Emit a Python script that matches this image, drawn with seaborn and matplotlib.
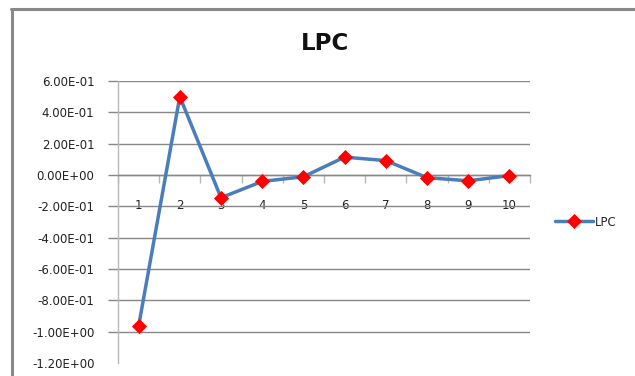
import matplotlib
matplotlib.use("Agg")
import matplotlib.pyplot as plt
from matplotlib.lines import Line2D
from matplotlib.ticker import FixedLocator, FuncFormatter
import seaborn as sns
import pandas as pd

# LPC coefficients by index
coef_index = [1, 2, 3, 4, 5, 6, 7, 8, 9, 10]
lpc_values = [-0.965, 0.50, -0.145, -0.041, -0.011, 0.114, 0.092, -0.017, -0.037, -0.004]
y_ticks = [-1.2, -1.0, -0.8, -0.6, -0.4, -0.2, 0.0, 0.2, 0.4, 0.6]
series_name = "LPC"

sns.set_theme(style="white")
plt.rcParams["font.family"] = ["DejaVu Sans"]

W, H = 635, 376
fig = plt.figure(figsize=(W / 100, H / 100), dpi=100)
fig.patch.set_facecolor("white")

x0, x1, ytop, ybot = 118, 530, 81, 363
ax = fig.add_axes([x0 / W, 1 - ybot / H, (x1 - x0) / W, (ybot - ytop) / H])
ax.set_facecolor("white")

df = pd.DataFrame({"idx": coef_index, "val": lpc_values, "series": series_name})

grid_c = "#878787"
axis_c = "#b8b8b8"

ax.set_xlim(0.5, 10.5)
ax.set_ylim(-1.2, 0.6)

# horizontal gridlines (skip bottom edge)
for v in y_ticks[1:]:
    ax.axhline(v, color=grid_c, lw=1.0, zorder=1)

sns.lineplot(data=df, x="idx", y="val", hue="series", palette=["#4a7ebb"],
             marker="D", markersize=6.8, markerfacecolor="#ff0000",
             markeredgecolor="#ff0000", markeredgewidth=0.6,
             linewidth=2.5, ax=ax, zorder=3, legend=True)

# spines
for s in ["top", "right"]:
    ax.spines[s].set_visible(False)
ax.spines["left"].set_color(axis_c)
ax.spines["left"].set_linewidth(1.0)
ax.spines["bottom"].set_position(("data", 0))
ax.spines["bottom"].set_color(grid_c)
ax.spines["bottom"].set_linewidth(1.0)

# y axis ticks
ax.yaxis.set_major_locator(FixedLocator(y_ticks))
ax.yaxis.set_major_formatter(FuncFormatter(lambda v, p: f"{v:.2E}"))
ax.tick_params(axis="y", direction="out", length=7, width=1.0, color=grid_c,
               labelsize=8.5, labelcolor="#222222", pad=10, left=True)
ax.yaxis.get_major_ticks()[0].tick1line.set_visible(False)

# x axis: labels at categories, tick marks at category boundaries
ax.set_xticks(coef_index)
ax.set_xticklabels([str(i) for i in coef_index])
ax.set_xticks([i + 0.5 for i in [0] + coef_index], minor=True)
ax.tick_params(axis="x", which="major", length=0, labelsize=8.5,
               labelcolor="#222222", pad=17, bottom=True)
ax.tick_params(axis="x", which="minor", direction="out", length=6, width=1.0,
               color=axis_c, bottom=True)
ax.set_xlabel("")
ax.set_ylabel("")
ax.grid(False)

# legend to the right of the plot
handles, labels = ax.get_legend_handles_labels()
ax.legend(handles=handles, labels=labels, loc="center left",
          bbox_to_anchor=(555 / W, 1 - 222 / H), bbox_transform=fig.transFigure,
          frameon=False, fontsize=8.5, handlelength=3.2, handletextpad=0.2,
          borderpad=0, borderaxespad=0)

# title
fig.text(325 / W, 1 - 43 / H, "LPC", ha="center", va="center",
         fontsize=16.5, fontweight="bold", color="#111111")

# chart border (top and left edges)
frame_c = "#898989"
fig.add_artist(Line2D([10.5 / W, 1.0], [1 - 8.5 / H, 1 - 8.5 / H],
                      transform=fig.transFigure, color=frame_c, lw=2.2))
fig.add_artist(Line2D([11.5 / W, 11.5 / W], [1 - 8.5 / H, 0.0],
                      transform=fig.transFigure, color=frame_c, lw=2.2))

fig.savefig("out.png", dpi=100)
